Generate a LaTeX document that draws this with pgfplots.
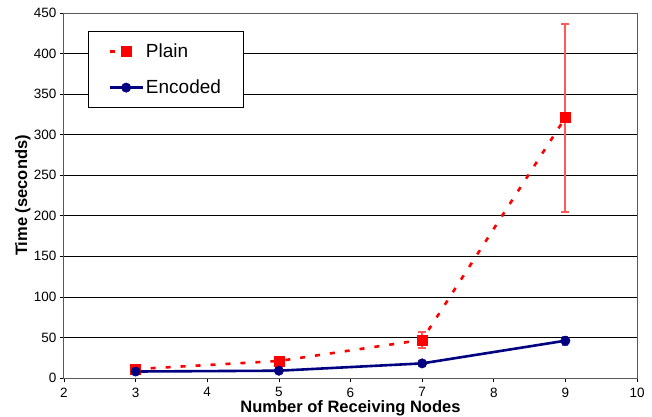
\documentclass[border=0pt]{standalone}
\usepackage{pgfplots}
\pgfplotsset{compat=1.18}
\usepackage{fontspec}
\setmainfont{Liberation Sans}
\definecolor{plainred}{RGB}{255,0,0}
\definecolor{encblue}{RGB}{0,0,128}
\pgfplotsset{
  plain legend/.style={legend image code/.code={
    \draw[##1] (0pt,0pt) -- (22pt,0pt);
    \draw[##1, solid] plot coordinates {(16.5pt,0pt)};
  }},
}
\begin{document}
\begin{tikzpicture}[x=1pt,y=1pt]
\useasboundingbox (-64,-38) rectangle (588,378);
\begin{axis}[
  scale only axis,
  width=573pt, height=365pt,
  at={(0,0)}, anchor=south west,
  xmin=2, xmax=10, ymin=0, ymax=450,
  xtick={2,3,...,10}, ytick={0,50,...,450},
  ymajorgrids, grid style={black, line width=0.6pt},
  axis line style={draw=gray!70!black, line width=1pt},
  tick align=outside, tick pos=left,
  major tick length=4pt,
  tick style={black, line width=0.6pt},
  /pgf/number format/assume math mode=true,
  ticklabel style={font=\fontsize{13.5}{15}\selectfont},
  xticklabel style={inner sep=0pt, yshift=-5.5pt},
  xlabel={\textbf{Number of Receiving Nodes}},
  ylabel={\textbf{Time (seconds)}},
  label style={font=\fontsize{16.5}{19}\selectfont},
  xlabel style={at={(axis description cs:0.5,0)}, anchor=base, inner sep=0pt, yshift=-34.3pt},
  ylabel style={at={(axis description cs:-0.072,0.5)}, anchor=center},
  legend style={at={(axis description cs:0.042,0.951)}, anchor=north west,
    draw=black, line width=0.6pt, fill=white,
    font=\fontsize{19}{22}\selectfont,
    inner xsep=20pt, inner ysep=10.5pt, row sep=17pt,
    nodes={inner sep=2pt},
    cells={anchor=west}},
  legend image code/.code={
    \draw[#1] (0pt,0pt) -- (33pt,0pt);
    \draw[#1, solid] plot coordinates {(16.5pt,0pt)};
  },
]
% error bars of Plain (mean +- error)
\addplot[forget plot, draw=red!65!white, line width=2pt, mark=-, mark size=4pt,
  mark options={draw=red!65!white, line width=2pt}] coordinates {(3,9) (3,13)};
\addplot[forget plot, draw=red!65!white, line width=2pt, mark=-, mark size=4pt,
  mark options={draw=red!65!white, line width=2pt}] coordinates {(5,18) (5,24)};
\addplot[forget plot, draw=red!65!white, line width=2pt, mark=-, mark size=4pt,
  mark options={draw=red!65!white, line width=2pt}] coordinates {(7,37) (7,57)};
\addplot[forget plot, draw=red!65!white, line width=2pt, mark=-, mark size=4pt,
  mark options={draw=red!65!white, line width=2pt}] coordinates {(9,205) (9,437)};
% error bars of Encoded
\addplot[forget plot, draw=blue!45!gray, line width=2pt, mark=-, mark size=3pt,
  mark options={draw=blue!45!gray, line width=2pt}] coordinates {(9,41) (9,51)};
\addplot[color=plainred, line width=2.6pt, dash pattern=on 5pt off 10pt,
  mark=square*, mark size=5pt, mark options={solid, fill=plainred, line width=0.5pt},
  plain legend]
  table[x=x, y=y] {
x y
3 11
5 21
7 47
9 321
};
\addlegendentry{Plain}
\addplot[color=encblue, line width=2.6pt,
  mark=*, mark size=4.7pt, mark options={fill=encblue, line width=0.5pt}]
  table[x=x, y=y] {
x y
3 8
5 9
7 18
9 46
};
\addlegendentry{Encoded}
\end{axis}
\end{tikzpicture}
\end{document}
